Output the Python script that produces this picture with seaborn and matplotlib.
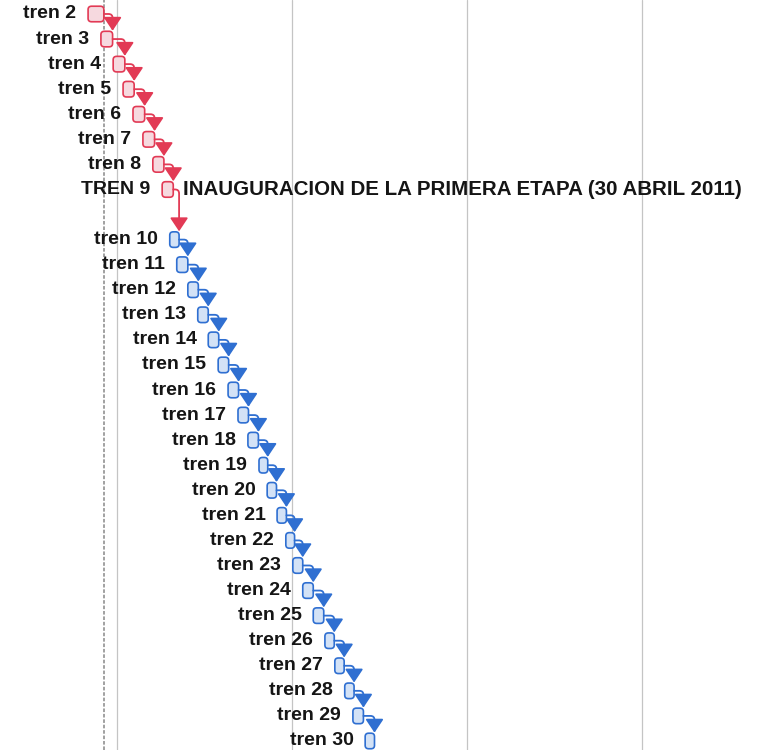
import numpy as np
import matplotlib.pyplot as plt
import seaborn as sns
from matplotlib.patches import FancyBboxPatch

# Datos del diagrama (días desde el inicio de la vista)
trenes = ['tren 2', 'tren 3', 'tren 4', 'tren 5', 'tren 6', 'tren 7', 'tren 8', 'TREN 9',
          'tren 10', 'tren 11', 'tren 12', 'tren 13', 'tren 14', 'tren 15', 'tren 16',
          'tren 17', 'tren 18', 'tren 19', 'tren 20', 'tren 21', 'tren 22', 'tren 23',
          'tren 24', 'tren 25', 'tren 26', 'tren 27', 'tren 28', 'tren 29', 'tren 30']
filas = [0, 1, 2, 3, 4, 5, 6, 7,
         9, 10, 11, 12, 13, 14, 15, 16, 17, 18, 19, 20, 21, 22, 23, 24, 25, 26, 27, 28, 29]
inicio = [15.1, 17.3, 19.4, 21.1, 22.8, 24.5, 26.2, 27.8,
          29.1, 30.3, 32.2, 33.9, 35.7, 37.4, 39.1, 40.8, 42.5, 44.4, 45.8, 47.5,
          49.0, 50.2, 51.9, 53.7, 55.7, 57.4, 59.1, 60.5, 62.6]
duracion = [2.7, 2.0, 2.0, 1.9, 2.0, 2.0, 1.9, 1.9,
            1.6, 1.9, 1.8, 1.8, 1.8, 1.8, 1.8, 1.8, 1.8, 1.5, 1.6, 1.6,
            1.5, 1.7, 1.8, 1.8, 1.6, 1.6, 1.6, 1.8, 1.6]
etapa = [1] * 8 + [2] * 21
lineas_tiempo = [20, 50, 80, 110]
linea_hoy = 17.9
hito = 'INAUGURACION DE LA PRIMERA ETAPA (30 ABRIL 2011)'

colores = {1: ('#e23a55', '#f6d9df'), 2: ('#2f6fd1', '#d3e2f6')}

sns.set_theme(style='white')
plt.rcParams['font.family'] = ['Liberation Sans', 'DejaVu Sans']

fig = plt.figure(figsize=(7.62, 7.5), dpi=100)
ax = fig.add_axes([0, 0, 1, 1])
ax.set_xlim(0, 130.63)
ax.set_ylim(29.36, -0.558)
ax.axis('off')

# Líneas verticales de la escala de tiempo
for x in lineas_tiempo:
    ax.axvline(x, color='#c4c4c4', lw=0.9, zorder=0)
ax.axvline(linea_hoy, color='#9a9a9a', lw=1.3, ls=(0, (2, 1)), zorder=0)

# Barras de tareas (redondeadas) y etiquetas
alto = 0.62
for nombre, f, s, d, e in zip(trenes, filas, inicio, duracion, etapa):
    borde, relleno = colores[e]
    p = FancyBboxPatch((s, f - alto / 2), d, alto,
                       boxstyle='round,pad=0,rounding_size=0.6',
                       mutation_aspect=0.22, fc=relleno, ec=borde, lw=1.2, zorder=3)
    ax.add_patch(p)
    ax.text(s - 2.0, f, nombre, ha='right', va='center',
            fontsize=14, fontweight='bold', color='#151515')

# Vínculos fin-inicio
for i in range(len(filas) - 1):
    color = colores[etapa[i]][0] if etapa[i] == etapa[i + 1] else colores[1][0]
    x0 = inicio[i] + duracion[i]
    x1 = inicio[i + 1] + duracion[i + 1]
    ax.annotate('', xy=(x1, filas[i + 1] - alto / 2 - 0.02), xytext=(x0, filas[i]),
                arrowprops=dict(arrowstyle='-|>,head_length=0.75,head_width=0.5',
                                connectionstyle='angle,angleA=0,angleB=90,rad=4',
                                color=color, lw=1.3, mutation_scale=11,
                                shrinkA=0, shrinkB=0), zorder=4)

# Hito
i9 = trenes.index('TREN 9')
ax.text(inicio[i9] + duracion[i9] + 1.6, filas[i9], hito, ha='left', va='center',
        fontsize=14.8, fontweight='bold', color='#151515')

plt.savefig('out.png', dpi=100)
